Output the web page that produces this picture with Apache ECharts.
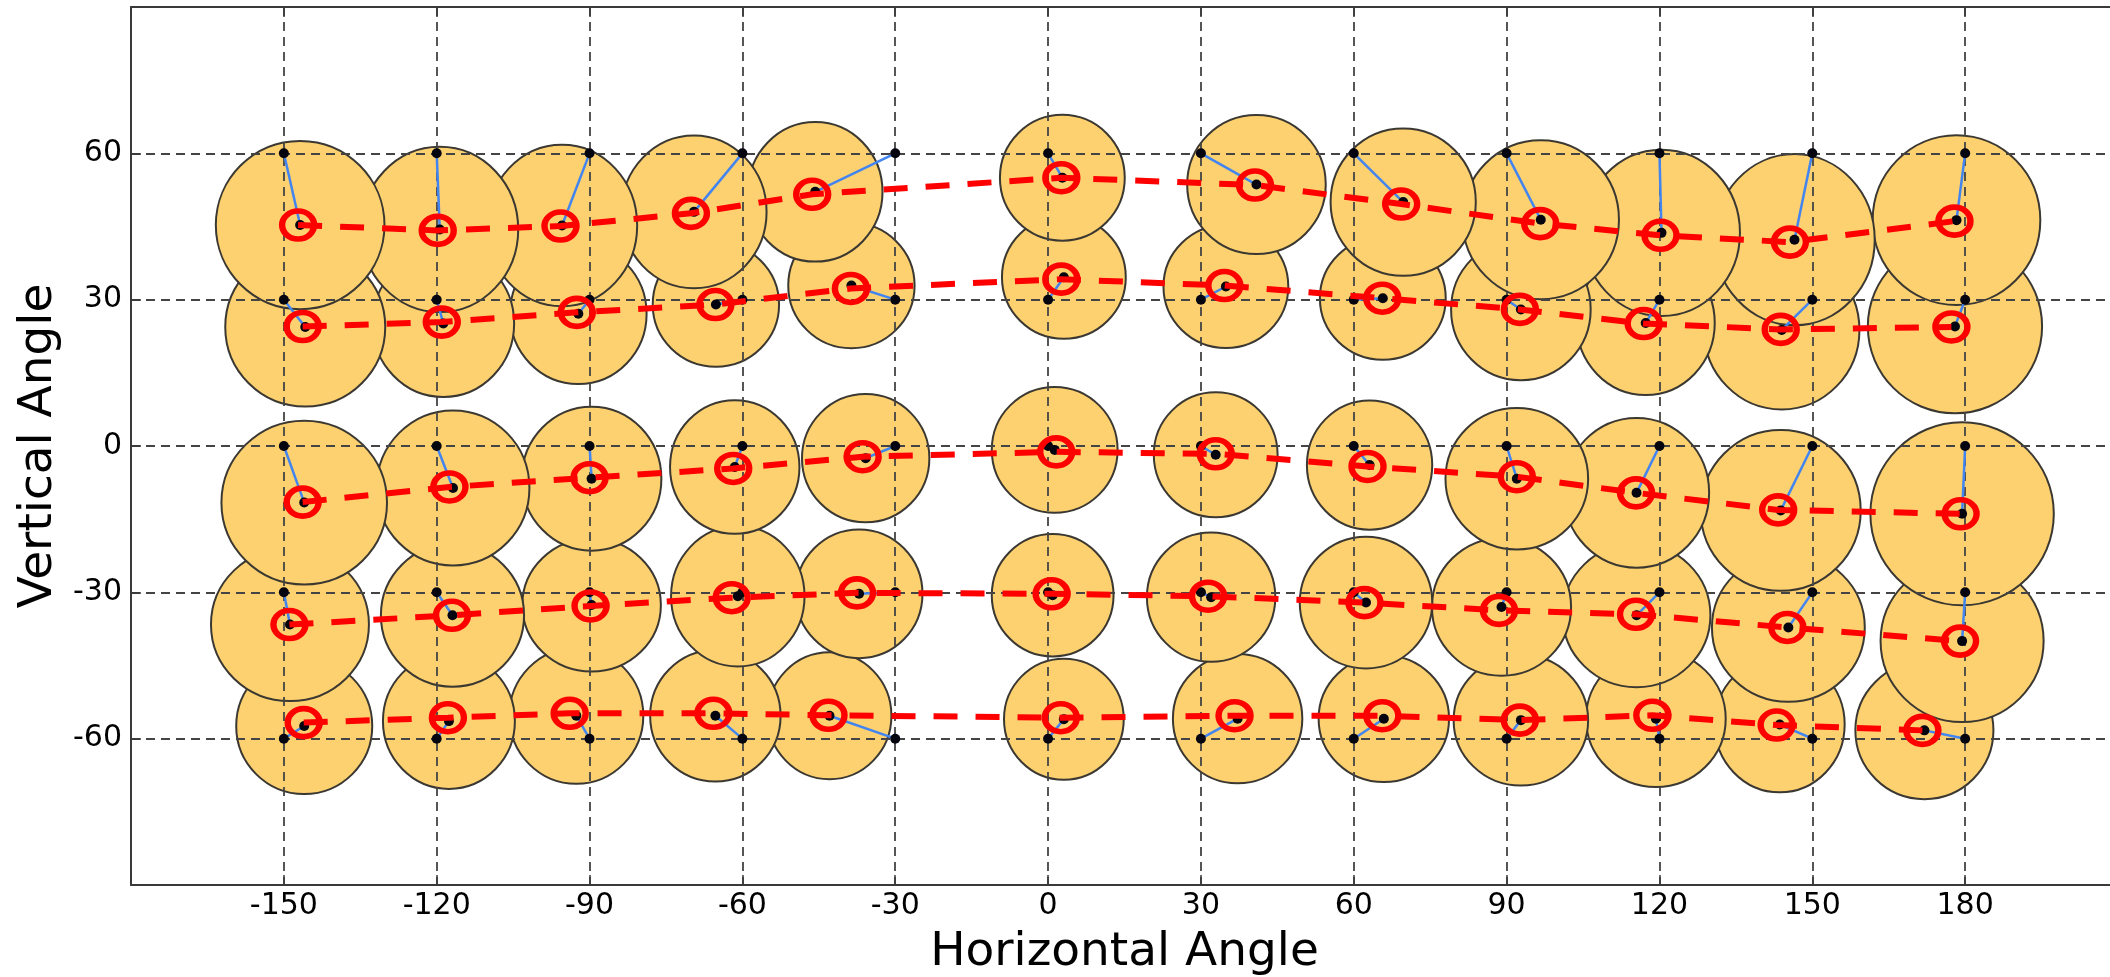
<!DOCTYPE html>
<html>
<head>
<meta charset="utf-8">
<title>Horizontal / Vertical Angle</title>
<script src="https://cdn.jsdelivr.net/npm/echarts@6/dist/echarts.min.js"></script>
<style>
  html, body { margin: 0; padding: 0; background: #ffffff; }
  #chart { width: 2110px; height: 977px; }
</style>
</head>
<body>
<div id="chart"></div>
<script>
// Target grid (degrees)
const horizontalTargets = [-150, -120, -90, -60, -30, 0, 30, 60, 90, 120, 150, 180];
const verticalTargets = [60, 30, 0, -30, -60];

// Tick labels shown on each axis
const horizontalTicks = [-150, -120, -90, -60, -30, 0, 30, 60, 90, 120, 150, 180];
const verticalTicks = [-60, -30, 0, 30, 60];

// Mean measured position for each target (rows follow verticalTargets)
const measuredH = [
  [-146.8, -119.4, -95.4, -69.5, -45.7, 2.8, 40.9, 69.7, 96.7, 120.4, 146.5, 178.3],
  [-145.8, -118.7, -92.2, -65.2, -38.6, 3.1, 34.9, 65.7, 92.8, 117.3, 144.0, 178.0],
  [-146.0, -116.8, -89.6, -61.5, -35.8, 1.3, 32.9, 63.1, 92.0, 115.5, 143.8, 179.4],
  [-148.8, -116.9, -89.6, -60.9, -37.1, 0.9, 32.0, 62.4, 89.0, 115.5, 145.3, 179.4],
  [-146.0, -117.6, -92.6, -65.3, -42.9, 3.1, 37.2, 65.9, 92.8, 119.3, 143.6, 172.0]
];
const measuredV = [
  [45.3, 44.4, 45.2, 48.0, 52.1, 55.0, 53.6, 50.0, 46.4, 43.7, 42.3, 46.3],
  [24.4, 25.1, 27.1, 29.0, 32.9, 34.6, 32.7, 30.3, 28.0, 25.2, 23.8, 24.5],
  [-11.6, -8.6, -6.7, -4.3, -2.5, -0.8, -1.8, -3.9, -6.7, -9.6, -13.2, -13.9],
  [-36.6, -34.7, -32.6, -30.8, -30.3, -30.6, -31.0, -32.1, -33.0, -34.7, -37.2, -40.0],
  [-57.4, -56.4, -55.3, -55.3, -55.3, -56.0, -55.9, -55.9, -56.2, -55.9, -57.1, -58.3]
];

// Spread of the responses: full width / height of each ellipse (degrees)
const spreadH = [
  [33.1, 30.8, 29.5, 28.5, 26.4, 24.5, 27.2, 28.5, 30.7, 30.8, 31.5, 32.9],
  [31.4, 27.8, 26.8, 24.8, 24.8, 24.3, 24.5, 24.7, 27.4, 27.1, 30.5, 34.2],
  [32.5, 30.0, 27.4, 25.4, 25.0, 24.7, 24.3, 24.6, 28.0, 28.5, 31.4, 36.0],
  [31.0, 28.1, 27.2, 26.2, 24.9, 23.9, 25.2, 26.0, 27.3, 29.0, 30.0, 32.0],
  [26.7, 25.9, 26.3, 25.6, 24.3, 23.5, 25.4, 25.6, 26.4, 27.4, 25.5, 27.1]
];
const spreadV = [
  [34.5, 33.9, 33.1, 31.3, 28.6, 25.8, 28.5, 30.2, 32.6, 34.1, 35.1, 34.8],
  [32.6, 30.1, 28.8, 25.5, 25.7, 25.2, 25.2, 25.2, 29.0, 29.5, 32.6, 35.6],
  [33.6, 31.8, 29.5, 27.4, 26.3, 25.8, 25.6, 26.5, 29.0, 30.7, 33.0, 37.5],
  [31.4, 29.3, 27.3, 28.8, 26.4, 25.1, 26.5, 27.0, 28.2, 29.5, 30.5, 33.2],
  [27.9, 27.8, 27.9, 27.0, 26.0, 24.8, 26.5, 26.0, 26.8, 28.0, 27.8, 28.2]
];

// Fitted model positions, one dashed curve per elevation row
const fittedH = [
  [-147.2, -119.8, -95.7, -70.1, -46.3, 2.6, 40.6, 69.3, 96.6, 120.2, 145.6, 177.9],
  [-146.3, -119.0, -92.5, -65.3, -38.7, 2.6, 34.6, 65.6, 92.6, 116.9, 143.8, 177.3],
  [-146.3, -117.5, -90.0, -61.8, -36.4, 1.6, 32.9, 62.7, 92.0, 115.4, 143.3, 179.1],
  [-148.9, -117.0, -89.8, -62.1, -37.5, 0.7, 31.4, 62.1, 88.5, 115.4, 145.1, 179.0],
  [-146.1, -117.8, -93.9, -65.7, -43.1, 2.5, 36.6, 65.6, 92.6, 118.6, 143.0, 171.6]
];
const fittedV = [
  [45.3, 44.2, 45.1, 47.7, 51.6, 55.0, 53.5, 49.6, 45.6, 43.2, 41.8, 46.1],
  [24.5, 25.4, 27.4, 29.0, 32.3, 34.2, 32.9, 30.3, 28.0, 25.1, 23.9, 24.4],
  [-11.5, -8.4, -6.5, -4.6, -2.2, -1.2, -1.6, -4.2, -6.3, -9.6, -13.1, -13.9],
  [-36.6, -34.7, -32.8, -31.1, -30.1, -30.3, -30.8, -32.1, -33.7, -34.5, -37.2, -40.0],
  [-56.7, -55.7, -54.8, -54.8, -55.2, -55.7, -55.3, -55.3, -56.2, -55.2, -57.2, -58.3]
];

const FONT = 'DejaVu Sans';
const AXIS_COLOR = '#3a3a3a';
const GRID_COLOR = '#444444';

// Ellipses: lower rows first so upper rows sit on top
const ellipseData = [];
for (let r = verticalTargets.length - 1; r >= 0; r--) {
  for (let c = horizontalTargets.length - 1; c >= 0; c--) {
    ellipseData.push([measuredH[r][c], measuredV[r][c], spreadH[r][c], spreadV[r][c]]);
  }
}

// Target -> measured connectors and the black dots at both ends
const connectorData = [];
const dotData = [];
verticalTargets.forEach((v, r) => {
  horizontalTargets.forEach((h, c) => {
    connectorData.push([h, v, measuredH[r][c], measuredV[r][c]]);
    dotData.push([h, v]);
    dotData.push([measuredH[r][c], measuredV[r][c]]);
  });
});

const fittedSeries = verticalTargets.map((v, r) => ({
  type: 'line',
  name: 'fit ' + v,
  data: horizontalTargets.map((h, c) => [fittedH[r][c], fittedV[r][c]]),
  z: 5,
  symbol: 'circle',
  symbolSize: [32, 28],
  showSymbol: true,
  showAllSymbol: true,
  itemStyle: { color: 'rgba(0,0,0,0)', borderColor: '#ff0000', borderWidth: 6 },
  lineStyle: { color: '#ff0000', width: 6, type: [24, 18] },
  emphasis: { disabled: true },
  animation: false,
  silent: true
}));

const chart = echarts.init(document.getElementById('chart'), null, { renderer: 'canvas' });

chart.setOption({
  animation: false,
  backgroundColor: '#ffffff',
  textStyle: { fontFamily: FONT },
  grid: {
    left: 131, right: -8, top: 7, bottom: 92,
    containLabel: false,
    outerBoundsMode: 'none'
  },
  xAxis: [
    {
      type: 'value',
      position: 'bottom',
      min: -180, max: 210, interval: 30,
      name: 'Horizontal Angle',
      nameLocation: 'middle',
      nameGap: 44,
      nameTextStyle: { fontSize: 47, fontFamily: FONT, color: '#000' },
      axisLine: { show: true, onZero: false, lineStyle: { color: AXIS_COLOR, width: 2 } },
      axisTick: { show: true, inside: true, length: 10, lineStyle: { color: AXIS_COLOR, width: 1.5 } },
      axisLabel: {
        show: true, margin: 6, fontSize: 30, fontFamily: FONT, color: '#000', hideOverlap: false,
        formatter: v => horizontalTicks.includes(v) ? String(v) : ''
      },
      splitLine: {
        show: true, showMinLine: false, showMaxLine: false,
        lineStyle: { color: GRID_COLOR, width: 1.8, type: [9, 6] }
      }
    },
    {
      type: 'value',
      position: 'top',
      min: -180, max: 210, interval: 30,
      axisLine: { show: true, onZero: false, lineStyle: { color: AXIS_COLOR, width: 2 } },
      axisTick: { show: true, inside: true, length: 10, lineStyle: { color: AXIS_COLOR, width: 1.5 } },
      axisLabel: { show: false },
      splitLine: { show: false }
    }
  ],
  yAxis: [
    {
      type: 'value',
      position: 'left',
      min: -90, max: 90, interval: 30,
      name: 'Vertical Angle',
      nameLocation: 'middle',
      nameRotate: 90,
      nameGap: 69,
      nameTextStyle: { fontSize: 47, fontFamily: FONT, color: '#000' },
      axisLine: { show: true, onZero: false, lineStyle: { color: AXIS_COLOR, width: 2 } },
      axisTick: { show: true, inside: true, length: 10, lineStyle: { color: AXIS_COLOR, width: 1.5 } },
      axisLabel: {
        show: true, margin: 9, fontSize: 30, fontFamily: FONT, color: '#000', hideOverlap: false,
        formatter: v => verticalTicks.includes(v) ? String(v) : ''
      },
      splitLine: {
        show: true, showMinLine: false, showMaxLine: false,
        lineStyle: { color: GRID_COLOR, width: 1.8, type: [9, 6] }
      }
    }
  ],
  series: [
    {
      type: 'custom',
      name: 'spread',
      z: -1,
      silent: true,
      data: ellipseData,
      encode: { x: 0, y: 1 },
      renderItem: function (params, api) {
        const c = api.coord([api.value(0), api.value(1)]);
        const s = api.size([api.value(2), api.value(3)]);
        return {
          type: 'ellipse',
          shape: { cx: c[0], cy: c[1], rx: s[0] / 2, ry: s[1] / 2 },
          style: { fill: '#FDD170', stroke: '#3b3832', lineWidth: 2 }
        };
      }
    },
    {
      type: 'custom',
      name: 'offset',
      z: 3,
      silent: true,
      data: connectorData,
      encode: { x: [0, 2], y: [1, 3] },
      renderItem: function (params, api) {
        const a = api.coord([api.value(0), api.value(1)]);
        const b = api.coord([api.value(2), api.value(3)]);
        return {
          type: 'line',
          shape: { x1: a[0], y1: a[1], x2: b[0], y2: b[1] },
          style: { stroke: '#4285f0', lineWidth: 2.5 }
        };
      }
    },
    {
      type: 'scatter',
      name: 'points',
      z: 4,
      silent: true,
      data: dotData,
      symbol: 'circle',
      symbolSize: 10,
      itemStyle: { color: '#05050f', opacity: 1 }
    }
  ].concat(fittedSeries)
});
</script>
</body>
</html>
